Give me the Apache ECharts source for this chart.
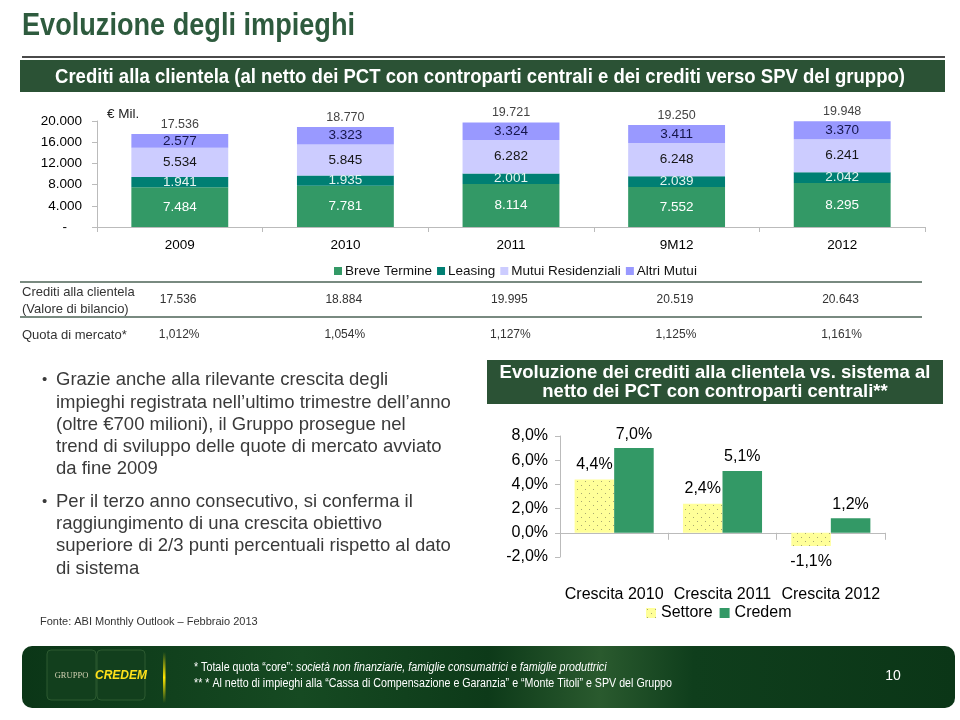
<!DOCTYPE html>
<html><head><meta charset="utf-8">
<script src="https://cdn.jsdelivr.net/npm/echarts@6/dist/echarts.min.js"></script>
<style>html,body{margin:0;padding:0;background:#fff}#c{width:960px;height:720px}</style>
</head><body><div id="c"></div>
<script>
// ---- data ----
const years = ['2009', '2010', '2011', '9M12', '2012'];
const breveTermine = [7484, 7781, 8114, 7552, 8295];
const leasing = [1941, 1935, 2001, 2039, 2042];
const mutuiResidenziali = [5534, 5845, 6282, 6248, 6241];
const altriMutui = [2577, 3323, 3324, 3411, 3370];
const totali = [17536, 18770, 19721, 19250, 19948];
const creditiBilancio = [17536, 18884, 19995, 20519, 20643];
const quotaMercato = [1.012, 1.054, 1.127, 1.125, 1.161];
const crescitaCat = ['Crescita 2010', 'Crescita 2011', 'Crescita 2012'];
const settore = [4.4, 2.4, -1.1];
const credem = [7.0, 5.1, 1.2];

const SANS = '"Liberation Sans", Arial, sans-serif';
const fmtK = n => String(n).replace(/\B(?=(\d{3})+(?!\d))/g, '.');
const fmtPct1 = v => v.toFixed(1).replace('.', ',') + '%';
const fmtPct3 = v => v.toFixed(3).replace('.', ',') + '%';

// text measuring (to emulate a narrow font by horizontal scaling)
const mctx = document.createElement('canvas').getContext('2d');
const measure = (text, size, weight, style) => {
  mctx.font = (style || 'normal') + ' ' + (weight || 'normal') + ' ' + size + 'px "Liberation Sans", Arial, sans-serif';
  return mctx.measureText(text).width;
};

// dotted pattern for Settore
const pc = document.createElement('canvas');
pc.width = 8; pc.height = 8;
const pctx = pc.getContext('2d');
pctx.fillStyle = '#ffff99'; pctx.fillRect(0, 0, 8, 8);
pctx.fillStyle = '#a8a870';
pctx.fillRect(1, 1, 1, 1); pctx.fillRect(5, 5, 1, 1);
const settorePattern = { image: pc, repeat: 'repeat' };

const chart = echarts.init(document.getElementById('c'), null, { renderer: 'canvas' });

const segLabel = (color) => ({ show: true, position: 'inside', color: color, fontSize: 13.5, fontFamily: SANS, formatter: p => fmtK(p.value) });

const option = {
  backgroundColor: '#ffffff',
  animation: false,
  textStyle: { fontFamily: SANS },
  grid: [
    { left: 97, top: 121, width: 828, height: 106 },
    { left: 560, top: 436, width: 325, height: 121 }
  ],
  legend: [
    { data: ['Breve Termine', 'Leasing', 'Mutui Residenziali', 'Altri Mutui'], left: 334, top: 264, padding: 0,
      itemWidth: 8, itemHeight: 8, itemGap: 5, icon: 'rect',
      textStyle: { fontSize: 13.5, color: '#111', fontFamily: SANS, padding: [0, 0, 0, -2] } },
    { data: ['Settore', 'Credem'], left: 646, top: 605, padding: 0,
      itemWidth: 10, itemHeight: 10, itemGap: 7, icon: 'rect',
      textStyle: { fontSize: 16, color: '#000', fontFamily: SANS } }
  ],
  xAxis: [
    { type: 'category', gridIndex: 0, data: years,
      axisLine: { lineStyle: { color: '#bbbbbb' } },
      axisTick: { show: true, length: 5, lineStyle: { color: '#bbbbbb' } },
      axisLabel: { fontSize: 13.5, color: '#000', margin: 11, interval: 0 } },
    { type: 'category', gridIndex: 1, data: crescitaCat, position: 'bottom',
      axisLine: { show: false, onZero: false }, axisTick: { show: false },
      axisLabel: { fontSize: 16, color: '#000', margin: 30, interval: 0, hideOverlap: false } },
    { type: 'category', gridIndex: 1, data: crescitaCat, position: 'bottom',
      axisLine: { show: true, onZero: true, lineStyle: { color: '#bbbbbb' } },
      axisTick: { show: true, length: 7, lineStyle: { color: '#bbbbbb' } },
      axisLabel: { show: false } }
  ],
  yAxis: [
    { type: 'value', gridIndex: 0, min: 0, max: 20000, interval: 4000,
      axisLine: { show: true, lineStyle: { color: '#bbbbbb' } },
      axisTick: { show: true, length: 5, lineStyle: { color: '#bbbbbb' } },
      splitLine: { show: false },
      axisLabel: { fontSize: 13.5, color: '#000', margin: 15, formatter: v => v === 0 ? '-    ' : fmtK(v) } },
    { type: 'value', gridIndex: 1, min: -2, max: 8, interval: 2,
      axisLine: { show: true, lineStyle: { color: '#bbbbbb' } },
      axisTick: { show: true, length: 5, lineStyle: { color: '#bbbbbb' } },
      splitLine: { show: false },
      axisLabel: { fontSize: 16, color: '#000', margin: 12, formatter: v => fmtPct1(v) } }
  ],
  series: [
    { name: 'Breve Termine', type: 'bar', stack: 'tot', xAxisIndex: 0, yAxisIndex: 0, data: breveTermine, barWidth: '58.5%',
      itemStyle: { color: '#339966' }, label: segLabel('#ffffff') },
    { name: 'Leasing', type: 'bar', stack: 'tot', xAxisIndex: 0, yAxisIndex: 0, data: leasing,
      itemStyle: { color: '#007f73' }, label: segLabel('#e6f4f0') },
    { name: 'Mutui Residenziali', type: 'bar', stack: 'tot', xAxisIndex: 0, yAxisIndex: 0, data: mutuiResidenziali,
      itemStyle: { color: '#ccccff' }, label: segLabel('#161616') },
    { name: 'Altri Mutui', type: 'bar', stack: 'tot', xAxisIndex: 0, yAxisIndex: 0, data: altriMutui,
      itemStyle: { color: '#9999ff' }, label: segLabel('#15154a') },
    { name: 'Totale', type: 'bar', stack: 'tot', xAxisIndex: 0, yAxisIndex: 0, data: totali.map(() => 0),
      itemStyle: { color: 'rgba(0,0,0,0)' }, silent: true,
      label: { show: true, position: 'top', distance: 3, color: '#444', fontSize: 12.5, formatter: p => fmtK(totali[p.dataIndex]) } },
    { name: 'Settore', type: 'bar', xAxisIndex: 1, yAxisIndex: 1, barWidth: '36.5%', barGap: '0%',
      data: settore.map(v => ({ value: v, label: { position: v < 0 ? 'bottom' : 'top' } })),
      itemStyle: { color: settorePattern },
      label: { show: true, distance: 7, fontSize: 16, color: '#000', formatter: p => fmtPct1(p.value) } },
    { name: 'Credem', type: 'bar', xAxisIndex: 1, yAxisIndex: 1, barWidth: '36.5%', barGap: '0%',
      data: credem, itemStyle: { color: '#339966' },
      label: { show: true, position: 'top', distance: 6, fontSize: 16, color: '#000', formatter: p => fmtPct1(p.value) } }
  ]
};
chart.setOption(option);

// ---- slide decorations & table ----
const g = [];
const txt = (text, x, y, o) => g.push({ type: 'text', silent: true, style: Object.assign({ text, x, y, fill: '#333', fontSize: 13, fontFamily: SANS, textAlign: 'left', textVerticalAlign: 'middle' }, o || {}) });
// horizontally condensed text: fits text into targetWidth
const ntxt = (text, x, y, targetWidth, o) => {
  o = o || {};
  const w = measure(text, o.fontSize || 13, o.fontWeight, o.fontStyle);
  g.push({ type: 'text', silent: true, x, y, scaleX: targetWidth / w,
    style: Object.assign({ text, x: 0, y: 0, fill: '#333', fontSize: 13, fontFamily: SANS, textAlign: 'left', textVerticalAlign: 'middle' }, o) });
};
const rect = (x, y, w, h, fill) => g.push({ type: 'rect', silent: true, shape: { x, y, width: w, height: h }, style: { fill } });
const line = (x1, y1, x2, y2, stroke, w) => g.push({ type: 'line', silent: true, shape: { x1, y1, x2, y2 }, style: { stroke, lineWidth: w } });

// title
ntxt('Evoluzione degli impieghi', 22, 26, 333, { fill: '#2e5b3e', fontSize: 31, fontWeight: 'bold' });
line(22, 57, 945, 57, '#4a4a4a', 2);
rect(20, 60, 925, 32, '#2b5235');
ntxt('Crediti alla clientela (al netto dei PCT con controparti centrali e dei crediti verso SPV del gruppo)', 55, 77, 850,
  { fill: '#ffffff', fontSize: 20, fontWeight: 'bold' });
txt('€ Mil.', 107, 114, { fill: '#222', fontSize: 13.5 });

// table
line(20, 282, 922, 282, '#4d6356', 1.5);
line(20, 317, 922, 317, '#4d6356', 1.5);
txt('Crediti alla clientela', 22, 292, { fontSize: 13 });
txt('(Valore di bilancio)', 22, 309, { fontSize: 13 });
txt('Quota di mercato*', 22, 335, { fontSize: 13 });
years.forEach((y, i) => {
  const cx = chart.convertToPixel({ xAxisIndex: 0 }, y);
  txt(fmtK(creditiBilancio[i]), cx - 20, 300, { fontSize: 12 });
  txt(fmtPct3(quotaMercato[i]), cx - 21, 335, { fontSize: 12 });
});

// bullets
const bulletLines = [
  [380, 'Grazie anche alla rilevante crescita degli', true],
  [403, 'impieghi registrata nell’ultimo trimestre dell’anno'],
  [425, '(oltre €700 milioni), il Gruppo prosegue nel'],
  [447, 'trend di sviluppo delle quote di mercato avviato'],
  [469, 'da fine 2009'],
  [502, 'Per il terzo anno consecutivo, si conferma il', true],
  [524, 'raggiungimento di una crescita obiettivo'],
  [546, 'superiore di 2/3 punti percentuali rispetto al dato'],
  [569, 'di sistema']
];
bulletLines.forEach(([y, t, b]) => {
  if (b) txt('•', 42, y, { fill: '#3a3a3a', fontSize: 15 });
  txt(t, 56, y, { fill: '#3a3a3a', fontSize: 18.5 });
});
txt('Fonte: ABI Monthly Outlook – Febbraio 2013', 40, 622, { fill: '#333', fontSize: 11 });

// right title box
rect(487, 360, 456, 44, '#2b5235');
txt('Evoluzione dei crediti alla clientela vs. sistema al', 715, 373, { fill: '#fff', fontSize: 18.5, fontWeight: 'bold', textAlign: 'center' });
txt('netto dei PCT con controparti centrali**', 715, 392, { fill: '#fff', fontSize: 18.5, fontWeight: 'bold', textAlign: 'center' });

// footer
g.push({ type: 'rect', silent: true, shape: { x: 22, y: 646, width: 933, height: 62, r: 10 },
  style: { fill: { type: 'linear', x: 0, y: 0, x2: 1, y2: 0.3, colorStops: [
    { offset: 0, color: '#0b3617' }, { offset: 0.3, color: '#164a22' }, { offset: 0.5, color: '#0d3a19' },
    { offset: 0.62, color: '#2a5a2e' }, { offset: 0.72, color: '#0f3e1c' }, { offset: 1, color: '#0b3617' } ] } } });
g.push({ type: 'rect', silent: true, shape: { x: 47, y: 650, width: 49, height: 50, r: 4 }, style: { fill: '#123f1d', stroke: '#2c5a30', lineWidth: 1 } });
g.push({ type: 'rect', silent: true, shape: { x: 97, y: 650, width: 48, height: 50, r: 4 }, style: { fill: '#123f1d', stroke: '#2c5a30', lineWidth: 1 } });
txt('GRUPPO', 71.5, 676, { fill: '#cfcfb0', fontSize: 8.5, fontFamily: '"Liberation Serif", serif', textAlign: 'center' });
txt('CREDEM', 121, 676, { fill: '#ffe21a', fontSize: 12, fontWeight: 'bold', fontStyle: 'italic', textAlign: 'center' });
g.push({ type: 'rect', silent: true, shape: { x: 163, y: 652, width: 2.5, height: 51 },
  style: { fill: { type: 'linear', x: 0, y: 0, x2: 0, y2: 1, colorStops: [
    { offset: 0, color: 'rgba(255,230,0,0)' }, { offset: 0.5, color: '#ffe600' }, { offset: 1, color: 'rgba(255,230,0,0)' } ] } } });
const foot2 = '** * Al netto di impieghi alla “Cassa di Compensazione e Garanzia” e “Monte Titoli” e SPV del Gruppo';
const footScale = 478 / measure(foot2, 12);
g.push({ type: 'text', silent: true, x: 194, y: 668, scaleX: footScale, style: { x: 0, y: 0, textVerticalAlign: 'middle',
  text: '{n|* Totale quota “core”: }{i|società non finanziarie, famiglie consumatrici}{n| e }{i|famiglie produttrici}',
  rich: { n: { fill: '#ffffff', fontSize: 12, fontFamily: SANS }, i: { fill: '#ffffff', fontSize: 12, fontFamily: SANS, fontStyle: 'italic' } } } });
g.push({ type: 'text', silent: true, x: 194, y: 684, scaleX: footScale, style: { x: 0, y: 0, textVerticalAlign: 'middle',
  text: foot2, fill: '#ffffff', fontSize: 12, fontFamily: SANS } });
txt('10', 893, 676, { fill: '#ffffff', fontSize: 14, textAlign: 'center' });

chart.setOption({ graphic: g });
</script>
</body></html>
